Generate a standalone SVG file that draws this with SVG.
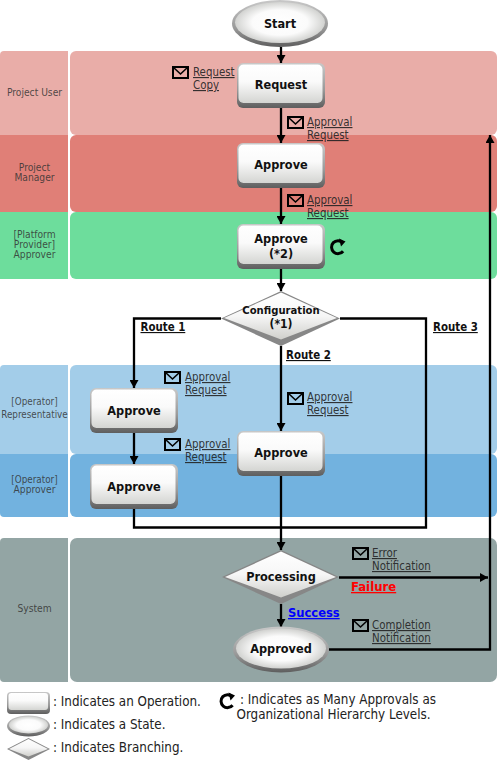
<svg xmlns="http://www.w3.org/2000/svg" width="497" height="760" viewBox="0 0 497 760">
<style>
text{font-family:"DejaVu Sans Condensed","DejaVu Sans",sans-serif;}
.b{font-weight:bold;font-size:12.6px;fill:#111;text-anchor:middle;}
.lane{font-size:10.2px;fill:#333;fill-opacity:.85;text-anchor:middle;}
.m{font-size:11.4px;fill:#222;fill-opacity:.9;text-decoration:underline;}
.r{font-weight:bold;font-size:11.4px;fill:#111;text-decoration:underline;}
.lg{font-size:13.3px;fill:#222;}
.c{fill:none;stroke:#000;stroke-width:2.3;}
.a{marker-end:url(#arr);}
.mail rect{fill:none;stroke:#000;stroke-width:2;}
.mail path{fill:none;stroke:#000;stroke-width:1.6;}
</style>
<defs>
<marker id="arr" markerUnits="userSpaceOnUse" markerWidth="9" markerHeight="9" refX="8" refY="4.5" orient="auto"><path d="M0,0L8,4.5L0,9Z" fill="#000"/></marker>
<linearGradient id="face" x1="0" y1="0" x2="0" y2="1"><stop offset="0" stop-color="#fff"/><stop offset=".45" stop-color="#fafafa"/><stop offset="1" stop-color="#d4d5d2"/></linearGradient>
<radialGradient id="eface" cx=".5" cy=".5" r=".56"><stop offset="0" stop-color="#fff"/><stop offset=".55" stop-color="#fbfbfb"/><stop offset="1" stop-color="#c4c5c2"/></radialGradient>
<linearGradient id="edge" x1="0" y1="0" x2="0" y2="1"><stop offset="0" stop-color="#c8c8c8"/><stop offset=".6" stop-color="#999"/><stop offset="1" stop-color="#5e5e5e"/></linearGradient>
<linearGradient id="dface" x1="0" y1="0" x2="0" y2="1"><stop offset="0" stop-color="#fff"/><stop offset=".5" stop-color="#f6f6f6"/><stop offset="1" stop-color="#cfcfcb"/></linearGradient>
<g id="mail" class="mail"><rect x="1" y="1" width="15" height="11"/><path d="M1.5,1.5L8.5,8L15.5,1.5"/></g>
<g id="loop"><path d="M13.2,4.6A6.5,6.5 0 1 0 13.6,13.2" fill="none" stroke="#000" stroke-width="3"/><path d="M9.500,0.500L16,3.600L11.500,8.500Z" fill="#000"/></g>
</defs>

<g id="lanes">
<path d="M4,51H68V135H0V55a4,4 0 0 1 4,-4Z" fill="#E9ADA8"/>
<rect x="70" y="51" width="427" height="84" rx="6" fill="#E9ADA8"/>
<rect x="0" y="135" width="68" height="77" fill="#E07F77"/>
<rect x="70" y="135" width="427" height="77" rx="6" fill="#E07F77"/>
<path d="M0,212H68V279H0Z" fill="#6DDD9C"/>
<rect x="70" y="212" width="427" height="67" rx="6" fill="#6DDD9C"/>
<path d="M4,365H68V454H0V369a4,4 0 0 1 4,-4Z" fill="#A3CDE9"/>
<rect x="70" y="365" width="427" height="89" rx="6" fill="#A3CDE9"/>
<path d="M0,454H68V517H4a4,4 0 0 1 -4,-4Z" fill="#72B2DF"/>
<rect x="70" y="454" width="427" height="63" rx="6" fill="#72B2DF"/>
<path d="M4,538H68V682H4a4,4 0 0 1 -4,-4V542a4,4 0 0 1 4,-4Z" fill="#93A5A4"/>
<rect x="70" y="538" width="427" height="144" rx="7" fill="#93A5A4"/>
<text class="lane" x="34.500" y="95.500">Project User</text>
<text class="lane" x="34.500" y="171">Project</text><text class="lane" x="34.500" y="181">Manager</text>
<text class="lane" x="34.500" y="238">[Platform</text><text class="lane" x="34.500" y="248">Provider]</text><text class="lane" x="34.500" y="258">Approver</text>
<text class="lane" x="34.500" y="405" style="font-size:9.800px">[Operator]</text><text class="lane" x="34.500" y="418" style="font-size:9.800px">Representative</text>
<text class="lane" x="34.500" y="483" style="font-size:9.800px">[Operator]</text><text class="lane" x="34.500" y="493">Approver</text>
<text class="lane" x="34.500" y="612">System</text>
</g>

<g id="connectors">
<path class="c a" d="M281,47V63"/>
<path class="c a" d="M281,107V143"/>
<path class="c a" d="M281,187V224"/>
<path class="c a" d="M281,268V291"/>
<path class="c a" d="M221,318.500H134V388"/>
<path class="c a" d="M281,346V431"/>
<path class="c a" d="M134,433V464"/>
<path class="c" d="M340,318.500H426V527.500H134V509"/>
<path class="c a" d="M281,475V550"/>
<path class="c a" d="M339,577.500H488"/>
<path class="c a" d="M281,604V627"/>
<path class="c a" d="M329,649.500H490V135"/>
</g>

<g id="start"><ellipse cx="280" cy="23.500" rx="48" ry="23.500" fill="url(#edge)"/><ellipse cx="280" cy="22.500" rx="45" ry="20.500" fill="url(#eface)"/><text class="b" x="280" y="28">Start</text></g>
<g id="request"><rect x="237" y="63" width="88" height="45" rx="6" fill="url(#edge)"/><rect x="238.500" y="64.500" width="84" height="38.500" rx="5" fill="url(#face)"/><text class="b" x="281" y="89">Request</text></g>
<g id="approve-pm"><rect x="237" y="143" width="88" height="45" rx="6" fill="url(#edge)"/><rect x="238.500" y="144.500" width="84" height="38.500" rx="5" fill="url(#face)"/><text class="b" x="281" y="169">Approve</text></g>
<g id="approve-pp"><rect x="237" y="224" width="88" height="45" rx="6" fill="url(#edge)"/><rect x="238.500" y="225.500" width="84" height="38.500" rx="5" fill="url(#face)"/><text class="b" x="281" y="243">Approve</text><text class="b" x="281" y="258">(*2)</text></g>
<g id="configuration"><path d="M221,318.500L281,291L340,318.500L281,346Z" fill="#878787"/><path d="M224,318L281,292.500L337,318L281,339.500Z" fill="url(#dface)"/><text class="b" x="281" y="314" style="font-size:11.200px">Configuration</text><text class="b" x="281" y="328" style="font-size:12px">(*1)</text></g>
<g id="approve-or1"><rect x="90" y="388" width="88" height="45" rx="6" fill="url(#edge)"/><rect x="91.500" y="389.500" width="84" height="38.500" rx="5" fill="url(#face)"/><text class="b" x="134" y="415">Approve</text></g>
<g id="approve-or2"><rect x="237" y="431" width="88" height="45" rx="6" fill="url(#edge)"/><rect x="238.500" y="432.500" width="84" height="38.500" rx="5" fill="url(#face)"/><text class="b" x="281" y="457">Approve</text></g>
<g id="approve-oa"><rect x="90" y="464" width="88" height="45" rx="6" fill="url(#edge)"/><rect x="91.500" y="465.500" width="84" height="38.500" rx="5" fill="url(#face)"/><text class="b" x="134" y="491">Approve</text></g>
<g id="processing"><path d="M222,577L281,550L339,577L281,604Z" fill="#878787"/><path d="M225,577L281,551.500L336,577L281,597.500Z" fill="url(#dface)"/><text class="b" x="281" y="581">Processing</text></g>
<g id="approved"><ellipse cx="281" cy="649.500" rx="48" ry="23" fill="url(#edge)"/><ellipse cx="281" cy="648.500" rx="45" ry="20" fill="url(#eface)"/><text class="b" x="281" y="653">Approved</text></g>

<g id="mails">
<use href="#mail" x="172" y="66"/><text class="m" x="193" y="76">Request</text><text class="m" x="193" y="89">Copy</text>
<use href="#mail" x="287" y="116"/><text class="m" x="307" y="126">Approval</text><text class="m" x="307" y="139">Request</text>
<use href="#mail" x="287" y="194"/><text class="m" x="307" y="204">Approval</text><text class="m" x="307" y="217">Request</text>
<use href="#mail" x="164" y="371"/><text class="m" x="185" y="381">Approval</text><text class="m" x="185" y="394">Request</text>
<use href="#mail" x="164" y="438"/><text class="m" x="185" y="448">Approval</text><text class="m" x="185" y="461">Request</text>
<use href="#mail" x="287" y="392"/><text class="m" x="307" y="401">Approval</text><text class="m" x="307" y="414">Request</text>
<use href="#mail" x="352" y="547"/><text class="m" x="372" y="557">Error</text><text class="m" x="372" y="570">Notification</text>
<use href="#mail" x="352" y="619"/><text class="m" x="372" y="629">Completion</text><text class="m" x="372" y="642">Notification</text>
</g>

<g id="labels">
<text class="r" x="140.500" y="331">Route 1</text>
<text class="r" x="286" y="359">Route 2</text>
<text class="r" x="433" y="331">Route 3</text>
<text class="r" x="351" y="591" style="fill:#f00;font-size:13px">Failure</text>
<text class="r" x="288" y="617" style="fill:#00f;font-size:12.800px">Success</text>
</g>
<use id="loop-1" href="#loop" x="329.500" y="238"/>

<g id="legend">
<rect x="7" y="692" width="43" height="22" rx="4" fill="url(#edge)"/><rect x="8.500" y="693" width="39.500" height="17" rx="3" fill="url(#face)"/>
<ellipse cx="28.500" cy="726" rx="21.500" ry="10.500" fill="url(#edge)"/><ellipse cx="28.500" cy="725" rx="19.500" ry="8.500" fill="url(#eface)"/>
<path d="M7,749L28.500,738L50,749L28.500,760Z" fill="#878787"/><path d="M9,749L28.500,739L48,749L28.500,756.500Z" fill="url(#dface)"/>
<text class="lg" x="53" y="706">: Indicates an Operation.</text>
<text class="lg" x="53" y="729">: Indicates a State.</text>
<text class="lg" x="53" y="752">: Indicates Branching.</text>
<use href="#loop" x="219" y="692"/>
<text class="lg" x="240" y="704">: Indicates as Many Approvals as</text>
<text class="lg" x="236.500" y="719">Organizational Hierarchy Levels.</text>
</g>
</svg>
